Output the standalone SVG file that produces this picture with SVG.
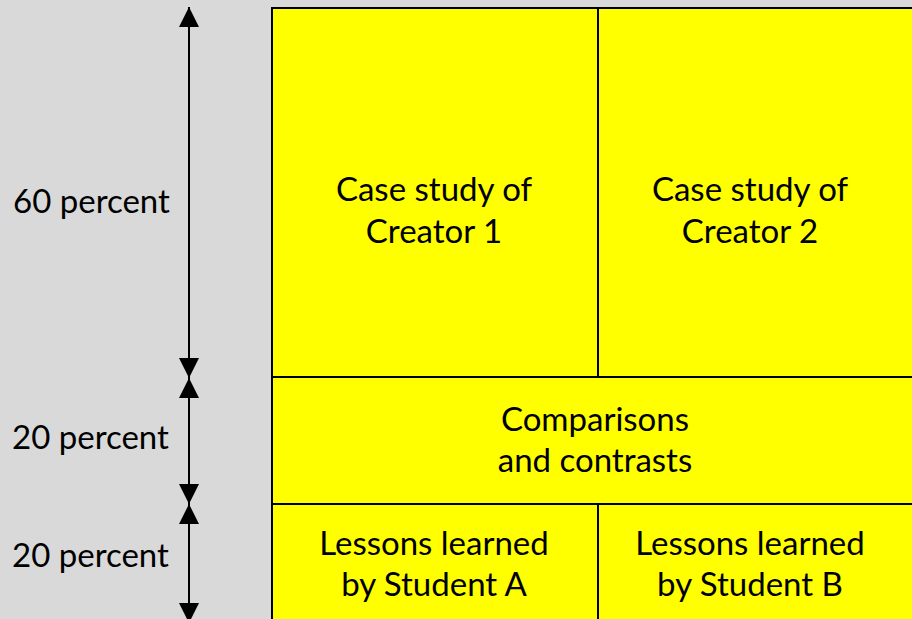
<svg xmlns="http://www.w3.org/2000/svg" width="912" height="619" viewBox="0 0 912 619">
<defs>
<style>
.t{font-family:Lato,"Open Sans","Liberation Sans",sans-serif;font-size:33px;fill:#000}
.m{text-anchor:middle}
.box{fill:#FFFF00;stroke:#000;stroke-width:2}
.ln{stroke:#000;stroke-width:2;fill:none}
</style>
<marker id="ah" viewBox="0 0 20 20" refX="20" refY="10" markerWidth="20" markerHeight="20" markerUnits="userSpaceOnUse" orient="auto-start-reverse">
<path d="M0,0 L20,10 L0,20 Z" fill="#000"/>
</marker>
</defs>
<rect width="912" height="619" fill="#D9D9D9"/>
<g id="creator1">
<rect class="box" x="272" y="8" width="326" height="369"/>
<text class="t m" x="434" y="201">Case study of</text>
<text class="t m" x="434" y="243">Creator 1</text>
</g>
<g id="creator2">
<rect class="box" x="598" y="8" width="330" height="369"/>
<text class="t m" x="750" y="201">Case study of</text>
<text class="t m" x="750" y="243">Creator 2</text>
</g>
<g id="comparisons">
<rect class="box" x="272" y="377" width="656" height="127"/>
<text class="t m" x="595" y="431">Comparisons</text>
<text class="t m" x="595" y="472">and contrasts</text>
</g>
<g id="studentA">
<rect class="box" x="272" y="504" width="326" height="130"/>
<text class="t m" x="434" y="555">Lessons learned</text>
<text class="t m" x="434" y="596">by Student A</text>
</g>
<g id="studentB">
<rect class="box" x="598" y="504" width="330" height="130"/>
<text class="t m" x="750" y="555">Lessons learned</text>
<text class="t m" x="750" y="596">by Student B</text>
</g>
<g id="labels">
<text class="t" x="13" y="213">60 percent</text>
<text class="t" x="12" y="449">20 percent</text>
<text class="t" x="12" y="567">20 percent</text>
</g>
<g id="connectors">
<line class="ln" x1="189" y1="378" x2="189" y2="7" marker-start="url(#ah)" marker-end="url(#ah)"/>
<line class="ln" x1="189" y1="504" x2="189" y2="378" marker-start="url(#ah)" marker-end="url(#ah)"/>
<line class="ln" x1="189" y1="623" x2="189" y2="504" marker-start="url(#ah)" marker-end="url(#ah)"/>
</g>
</svg>
